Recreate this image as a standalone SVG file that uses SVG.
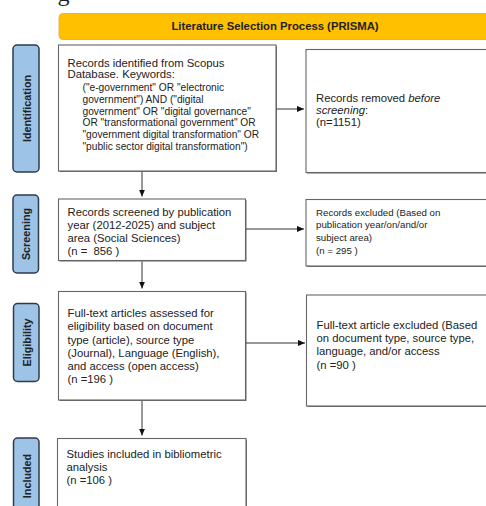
<svg xmlns="http://www.w3.org/2000/svg" width="486" height="506" viewBox="0 0 486 506">
<defs>
<marker id="ah" viewBox="0 0 8 8" refX="8" refY="4" markerWidth="7" markerHeight="7" markerUnits="userSpaceOnUse" orient="auto">
<path d="M0,0.5 L8,4 L0,7.5 z" fill="#111"/>
</marker>
</defs>
<style>
text{font-family:"Liberation Sans",Arial,sans-serif;fill:#222}
.box{fill:#fff;stroke:#666;stroke-width:1.1}
.shadow{fill:#6a6a6a}
.side{fill:#9dc3e6;stroke:#2e3b4a;stroke-width:1.5}
.side-t{font-weight:bold;font-size:10.8px;text-anchor:middle;dominant-baseline:central}
.t{font-size:11.3px}
.k{font-size:10.2px}
.s{font-size:9.7px}
.conn line{stroke:#333;stroke-width:1;marker-end:url(#ah)}
</style>
<rect width="486" height="506" fill="#fff"/>
<text x="57.5" y="0.5" style="font-family:'Liberation Serif',serif;font-size:24px;fill:#222">g</text>

<g id="banner">
<rect x="59" y="13.5" width="440" height="26" rx="4" fill="#ffc000" stroke="#e8b14a" stroke-width="1"/>
<text x="275" y="30.3" style="font-weight:bold;font-size:11.3px;text-anchor:middle">Literature Selection Process (PRISMA)</text>
</g>

<g id="lbl-identification">
<rect class="side" x="13" y="45" width="26" height="127" rx="4"/>
<text class="side-t" transform="translate(26.5,108.5) rotate(-90)">Identification</text>
</g>
<g id="lbl-screening">
<rect class="side" x="13" y="195" width="25.5" height="78" rx="4"/>
<text class="side-t" transform="translate(26,234) rotate(-90)">Screening</text>
</g>
<g id="lbl-eligibility">
<rect class="side" x="13.5" y="303.5" width="25.5" height="78" rx="4"/>
<text class="side-t" transform="translate(26.5,342.5) rotate(-90)">Eligibility</text>
</g>
<g id="lbl-included">
<rect class="side" x="13.5" y="438" width="25.5" height="80" rx="4"/>
<text class="side-t" transform="translate(26.5,476) rotate(-90)">Included</text>
</g>

<g id="identified">
<rect class="shadow" x="59.5" y="46" width="217.5" height="126"/>
<rect class="box" x="58.5" y="45" width="217.5" height="126"/>
<text class="t" x="67.5" y="66.7">Records identified from Scopus</text>
<text class="t" x="67.5" y="78.3">Database. Keywords:</text>
<text class="k" x="82.5" y="91.3">("e-government" OR "electronic</text>
<text class="k" x="82.5" y="102.9">government") AND ("digital</text>
<text class="k" x="82.5" y="114.6">government" OR "digital governance"</text>
<text class="k" x="82.5" y="126.3">OR "transformational government" OR</text>
<text class="k" x="82.5" y="137.9">"government digital transformation" OR</text>
<text class="k" x="82.5" y="149.6">"public sector digital transformation")</text>
</g>

<g id="removed">
<rect class="shadow" x="307" y="50.5" width="200" height="123"/>
<rect class="box" x="306" y="49.5" width="200" height="123"/>
<text class="t" x="316" y="102.3">Records removed <tspan font-style="italic">before</tspan></text>
<text class="t" x="316" y="114"><tspan font-style="italic">screening</tspan>:</text>
<text class="t" x="316" y="125.7">(n=1151)</text>
</g>

<g id="screened">
<rect class="shadow" x="59.5" y="200" width="187" height="61.5"/>
<rect class="box" x="58.5" y="199" width="187" height="61.5"/>
<text class="t" x="67.5" y="215.7">Records screened by publication</text>
<text class="t" x="67.5" y="228.5">year (2012-2025) and subject</text>
<text class="t" x="67.5" y="241.5">area (Social Sciences)</text>
<text class="t" x="67.5" y="254.5">(n =&#160; 856 )</text>
</g>

<g id="excluded">
<rect class="shadow" x="307" y="200.5" width="200" height="66.5"/>
<rect class="box" x="306" y="199.5" width="200" height="66.5"/>
<text class="s" x="316" y="215.5">Records excluded (Based on</text>
<text class="s" x="316" y="228.2">publication year/on/and/or</text>
<text class="s" x="316" y="241">subject area)</text>
<text class="s" x="316" y="253.7">(n = 295 )</text>
</g>

<g id="fulltext">
<rect class="shadow" x="59.5" y="292.5" width="187" height="108.5"/>
<rect class="box" x="58.5" y="291.5" width="187" height="108.5"/>
<text class="t" x="67.5" y="317.3">Full-text articles assessed for</text>
<text class="t" x="67.5" y="330.4">eligibility based on document</text>
<text class="t" x="67.5" y="343.5">type (article), source type</text>
<text class="t" x="67.5" y="356.6">(Journal), Language (English),</text>
<text class="t" x="67.5" y="369.7">and access (open access)</text>
<text class="t" x="67.5" y="382.8">(n =196 )</text>
</g>

<g id="fulltext-excluded">
<rect class="shadow" x="307.5" y="296" width="200" height="111"/>
<rect class="box" x="306.5" y="295" width="200" height="111"/>
<text class="t" x="316.5" y="329">Full-text article excluded (Based</text>
<text class="t" x="316.5" y="342.2">on document type, source type,</text>
<text class="t" x="316.5" y="355.4">language, and/or access</text>
<text class="t" x="316.5" y="368.6">(n =90 )</text>
</g>

<g id="included">
<rect class="shadow" x="58.5" y="439.5" width="188.5" height="80"/>
<rect class="box" x="57.5" y="438.5" width="188.5" height="80"/>
<text class="t" x="66.5" y="458.3">Studies included in bibliometric</text>
<text class="t" x="66.5" y="471.3">analysis</text>
<text class="t" x="66.5" y="484.3">(n =106 )</text>
</g>

<g id="connectors" class="conn">
<line x1="142" y1="172" x2="142" y2="196.5"/>
<line x1="142" y1="261.5" x2="142" y2="288.5"/>
<line x1="142" y1="401" x2="142" y2="435.5"/>
<line x1="276.5" y1="109" x2="304" y2="109"/>
<line x1="246" y1="229" x2="304" y2="229"/>
<line x1="246" y1="343" x2="305" y2="343"/>
</g>
</svg>
